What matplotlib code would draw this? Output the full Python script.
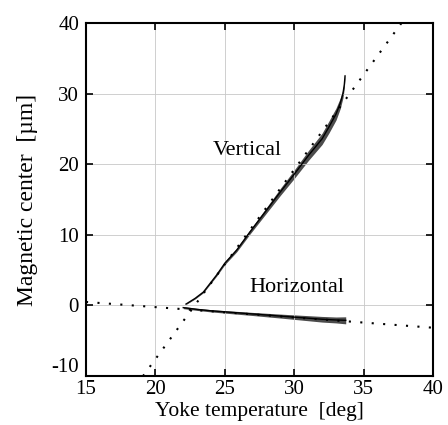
#!/usr/bin/env python3
# magnetic center vs yoke temperature, vertical + horizontal with linear fits

import matplotlib
matplotlib.use("Agg")
import matplotlib.pyplot as plt
import matplotlib.transforms as mtrans
import numpy as np

plt.rcParams["font.family"] = ["Liberation Serif", "DejaVu Serif"]
plt.rcParams["axes.unicode_minus"] = False

vert_x = [22.2, 22.85, 23.45, 24.4, 25.0, 25.85, 26.8, 28.0, 29.0, 30.0,
          31.0, 32.0, 32.5, 33.0, 33.3, 33.5, 33.6, 33.65]
vert_y = [0.2, 1.0, 1.9, 4.3, 6.0, 7.85, 10.4, 13.5, 16.1, 18.6,
          21.2, 23.6, 25.3, 27.1, 28.6, 30.0, 31.3, 32.5]
vert_spread = [0.05, 0.08, 0.1, 0.15, 0.2, 0.25, 0.3, 0.4, 0.5, 0.6,
               0.7, 0.8, 0.85, 0.85, 0.75, 0.6, 0.5, 0.3]

horiz_x = [22.0, 23.0, 24.0, 25.0, 26.0, 27.0, 28.0, 29.0, 30.0,
           31.0, 32.0, 33.0, 33.7]
horiz_y = [-0.3, -0.55, -0.75, -0.9, -1.05, -1.2, -1.35, -1.5, -1.65,
           -1.8, -1.95, -2.05, -2.1]
horiz_spread = [0.15, 0.15, 0.16, 0.18, 0.2, 0.22, 0.25, 0.28, 0.32,
                0.36, 0.4, 0.42, 0.5]

# linear fit endpoints
fit_vert_x = [19.1, 37.72]
fit_vert_y = [-10.0, 40.0]
fit_horiz_x = [15.0, 40.0]
fit_horiz_y = [0.5, -3.15]

fig = plt.figure(figsize=(4.48, 4.25), dpi=100)
ax = fig.add_axes([0.192, 0.115, 0.775, 0.831])

dot = (0, (1, 4.5))
ax.plot(fit_vert_x, fit_vert_y, color="black", lw=1.5, linestyle=dot)
ax.plot(fit_horiz_x, fit_horiz_y, color="black", lw=1.5, linestyle=dot)

for xs, ys, sp in [(vert_x, vert_y, vert_spread),
                   (horiz_x, horiz_y, horiz_spread)]:
    xs, ys, sp = np.array(xs), np.array(ys), np.array(sp)
    ax.fill_between(xs, ys - sp, ys + sp, color="black", alpha=0.7, lw=0)
    ax.plot(xs, ys, color="black", lw=1.0)

ax.text(26.6, 22.0, "Vertical", fontsize=16, ha="center", va="center")
ax.text(30.17, 2.6, "Horizontal", fontsize=16, ha="center", va="center")

ax.set_xlim(15, 40)
ax.set_ylim(-10, 40)
ax.set_xticks(range(15, 41, 5))
ax.set_yticks(range(-10, 41, 10))
ax.grid(color="#c8c8c8", lw=0.6)
ax.tick_params(direction="in", length=5, width=1.2, top=True, right=True,
               labelsize=15)
ax.tick_params(axis="y", pad=5)
ax.tick_params(axis="x", pad=3)
for s in ax.spines.values():
    s.set_linewidth(1.5)

# the bottom y label sits a bit higher so it clears the "15"
lbl = ax.get_yticklabels()[0]
lbl.set_transform(lbl.get_transform() +
                  mtrans.ScaledTranslation(0, 8 / 72, fig.dpi_scale_trans))

ax.set_xlabel("Yoke temperature  [deg]", fontsize=15.5, labelpad=2)
ax.set_ylabel("Magnetic center  [\u00b5m]", fontsize=17, labelpad=10)

fig.savefig("out.png", dpi=100)
